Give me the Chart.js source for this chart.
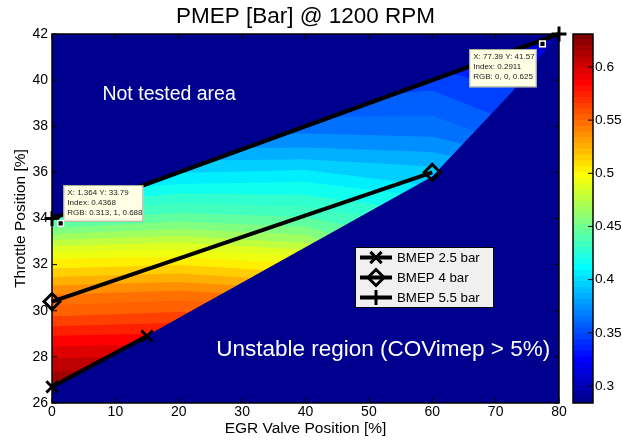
<!DOCTYPE html>
<html>
<head>
<meta charset="utf-8">
<script src="https://cdn.jsdelivr.net/npm/chart.js@4.4.1/dist/chart.umd.min.js"></script>
<style>
  html, body { margin: 0; padding: 0; background: #fff; }
  #wrap { position: relative; width: 622px; height: 443px; }
  #main { position: absolute; left: 0; top: 0; }
  #cbar { position: absolute; left: 560px; top: 0; }
</style>
</head>
<body>
<div id="wrap">
  <canvas id="main" width="622" height="443"></canvas>
  <canvas id="cbar" width="62" height="443"></canvas>
</div>
<script>
/* ── data ────────────────────────────────────────────────── */

// PMEP contours: throttle [%] where PMEP equals each level, read at these EGR positions
const isoEgr = [0, 20, 40, 60, 70, 80];
const isoLevels = [0.29, 0.30, 0.31, 0.32, 0.33, 0.34, 0.35, 0.36, 0.37, 0.38, 0.39, 0.40, 0.41,
  0.42, 0.43, 0.44, 0.45, 0.46, 0.47, 0.48, 0.49, 0.50, 0.51, 0.52, 0.53, 0.54, 0.55, 0.56,
  0.57, 0.58, 0.59, 0.60, 0.61, 0.62];
const isoThrottle = [
  [41.00, 42.00, 43.40, 45.55, 43.70, 41.75],
  [40.50, 41.47, 42.68, 44.55, 43.00, 41.35],
  [40.00, 40.92, 41.96, 43.55, 42.32, 40.98],
  [39.50, 40.36, 41.25, 42.55, 41.61, 40.50],
  [39.00, 39.81, 40.54, 41.55, 40.83, 40.00],
  [38.50, 39.25, 39.82, 40.55, 39.75, 39.50],
  [38.00, 38.69, 39.11, 39.55, 38.45, 39.00],
  [37.50, 38.14, 38.39, 38.45, 37.45, 38.50],
  [37.00, 37.58, 37.69, 37.54, 36.90, 38.00],
  [36.50, 37.03, 37.08, 36.88, 36.30, 37.50],
  [36.00, 36.50, 36.57, 36.25, 35.70, 37.00],
  [35.50, 35.97, 36.10, 35.42, 35.10, 36.50],
  [35.04, 35.50, 35.58, 34.92, 34.50, 36.00],
  [34.63, 35.08, 35.03, 34.27, 33.90, 35.50],
  [34.25, 34.67, 34.52, 33.60, 33.30, 35.00],
  [33.89, 34.25, 34.07, 32.90, 32.60, 34.50],
  [33.59, 33.87, 33.64, 32.20, 31.90, 34.00],
  [33.33, 33.54, 33.29, 31.50, 31.20, 33.50],
  [33.07, 33.25, 32.95, 30.80, 30.50, 33.00],
  [32.80, 32.96, 32.64, 30.10, 29.80, 32.50],
  [32.53, 32.66, 32.36, 29.40, 29.10, 32.00],
  [32.25, 32.34, 32.04, 28.70, 28.40, 31.50],
  [31.83, 31.98, 31.67, 28.00, 27.70, 31.00],
  [31.46, 31.61, 31.29, 27.30, 27.00, 30.50],
  [31.10, 31.25, 30.93, 26.60, 26.30, 30.00],
  [30.70, 30.87, 30.56, 25.90, 25.60, 29.50],
  [30.25, 30.43, 30.17, 25.20, 24.90, 29.00],
  [29.75, 29.95, 29.75, 24.50, 24.20, 28.50],
  [29.33, 29.48, 29.33, 23.80, 23.50, 28.00],
  [28.92, 29.02, 28.89, 23.10, 22.80, 27.50],
  [28.45, 28.57, 28.43, 22.40, 22.10, 27.00],
  [27.92, 28.10, 27.95, 21.70, 21.40, 26.50],
  [27.36, 27.58, 27.42, 21.00, 20.70, 26.00],
  [26.75, 27.03, 26.86, 20.30, 20.00, 25.50]
];
const isoBandWidth = 0.01;

// edge of the unstable region (below it nothing was measured)
const unstableEgr = [0, 15, 60, 72.7, 80];
const unstableThr = [26.7, 28.9, 35.8, 39.5, 42];

// BMEP lines
const bmep25Egr = [0, 15];
const bmep25Thr = [26.7, 28.9];
const bmep4Egr = [0, 60];
const bmep4Thr = [30.4, 36.0];
const bmep55Egr = [0, 80];
const bmep55Thr = [34.0, 42.0];

// data tips
const tipEgr = [1.364, 77.39];
const tipThr = [33.79, 41.57];
const tipIndex = ['0.4368', '0.2911'];
const tipRgb = ['0.313, 1, 0.688', '0, 0, 0.625'];

// axes
const egrTicks = [0, 10, 20, 30, 40, 50, 60, 70, 80];
const throttleTicks = [26, 28, 30, 32, 34, 36, 38, 40, 42];
const colourLimits = [0.284, 0.631];
const colourTicks = [0.3, 0.35, 0.4, 0.45, 0.5, 0.55, 0.6];

/* ── colours ─────────────────────────────────────────────── */
const FONT = '"Liberation Sans", Arial, Helvetica, sans-serif';
Chart.defaults.font.family = FONT;
Chart.defaults.color = '#000';

// MATLAB jet(64), k = 1..64
function jetColor(k) {
  const u = j => (j < 1 || j > 47) ? 0 : j <= 16 ? j / 16 : j <= 31 ? 1 : (48 - j) / 16;
  const c = v => Math.round(v * 255);
  return `rgb(${c(u(k - 24))},${c(u(k - 8))},${c(u(k + 8))})`;
}
function colorFor(v) {
  const k = Math.floor((v - colourLimits[0]) / (colourLimits[1] - colourLimits[0]) * 64) + 1;
  return jetColor(Math.max(1, Math.min(64, k)));
}
const BG = jetColor(1);

const toPoints = (xs, ys) => xs.map((x, i) => ({ x: x, y: ys[i] }));

/* ── heat map as filled contour bands ────────────────────── */
// lowest level first; each band fills down to the axis and the next level paints over it
const bandSets = isoLevels.map((lvl, i) => ({
  type: 'line',
  label: 'PMEP ' + lvl,
  data: toPoints(isoEgr, isoThrottle[i]),
  borderColor: 'rgba(0,0,0,0)',
  borderWidth: 1,
  backgroundColor: colorFor(lvl + isoBandWidth / 2),
  pointRadius: 0,
  fill: 'start',
  order: 200 - i
}));

const bmepLine = (label, xs, ys, style, radius, order) => ({
  type: 'line',
  label: label,
  data: toPoints(xs, ys),
  borderColor: '#000',
  borderWidth: 4,
  pointStyle: style,
  pointRadius: radius,
  pointBorderWidth: 3,
  pointBorderColor: '#000',
  pointBackgroundColor: 'rgba(0,0,0,0)',
  fill: false,
  clip: false,
  order: order,
  isBmep: true
});

const datasets = bandSets.concat([
  {
    type: 'line', label: 'unstable', data: toPoints(unstableEgr, unstableThr),
    borderColor: BG, backgroundColor: BG, borderWidth: 1, pointRadius: 0, fill: 'start', order: 9
  },
  {
    type: 'line', label: 'not tested', data: toPoints(bmep55Egr, bmep55Thr),
    borderColor: BG, backgroundColor: BG, borderWidth: 1, pointRadius: 0, fill: 'end', order: 8
  },
  bmepLine('BMEP 2.5 bar', bmep25Egr, bmep25Thr, 'crossRot', 8, 3),
  bmepLine('BMEP 4 bar', bmep4Egr, bmep4Thr, 'rectRot', 8, 2),
  bmepLine('BMEP 5.5 bar', bmep55Egr, bmep55Thr, 'cross', 7.5, 1)
]);

/* ── overlay: notes, box, inward ticks, legend, data tips ── */
const notes = [
  { text: 'Not tested area', egr: 7.96, thr: 39.14, size: 19.5 },
  { text: 'Unstable region (COVimep > 5%)', egr: 25.9, thr: 28.04, size: 22.5 }
];

function marker(ctx, style, radius, x, y) {
  if (Chart.helpers && Chart.helpers.drawPoint) {
    Chart.helpers.drawPoint(ctx, { pointStyle: style, radius: radius, borderWidth: ctx.lineWidth, rotation: 0 }, x, y);
  }
}

const overlay = {
  id: 'overlay',
  beforeDatasetsDraw(chart) {
    const { ctx, chartArea: a } = chart;
    ctx.save();
    ctx.fillStyle = BG;
    ctx.fillRect(a.left, a.top, a.width, a.height);
    ctx.restore();
  },
  afterDatasetsDraw(chart) {
    const { ctx, chartArea: a, scales: { x, y } } = chart;
    ctx.save();

    // white notes
    ctx.fillStyle = '#fff';
    ctx.textAlign = 'left';
    ctx.textBaseline = 'alphabetic';
    notes.forEach(n => {
      ctx.font = n.size + 'px ' + FONT;
      ctx.fillText(n.text, x.getPixelForValue(n.egr), y.getPixelForValue(n.thr));
    });

    // inward ticks + box
    ctx.strokeStyle = '#000';
    ctx.lineWidth = 1;
    ctx.beginPath();
    x.ticks.forEach(t => {
      const px = x.getPixelForValue(t.value);
      ctx.moveTo(px, a.bottom); ctx.lineTo(px, a.bottom - 5);
      ctx.moveTo(px, a.top); ctx.lineTo(px, a.top + 5);
    });
    y.ticks.forEach(t => {
      const py = y.getPixelForValue(t.value);
      ctx.moveTo(a.left, py); ctx.lineTo(a.left + 5, py);
      ctx.moveTo(a.right, py); ctx.lineTo(a.right - 5, py);
    });
    ctx.stroke();
    ctx.lineWidth = 1.5;
    ctx.strokeRect(a.left, a.top, a.width, a.height);

    // legend
    const lg = { x: 355, y: 247, w: 139, h: 61 };
    ctx.fillStyle = '#f0f0f0';
    ctx.fillRect(lg.x, lg.y, lg.w, lg.h);
    ctx.lineWidth = 1;
    ctx.strokeRect(lg.x + 0.5, lg.y + 0.5, lg.w - 1, lg.h - 1);
    ctx.font = '13.3px ' + FONT;
    ctx.textBaseline = 'middle';
    chart.data.datasets.filter(d => d.isBmep).forEach((d, i) => {
      const ry = lg.y + 10.5 + i * 20;
      ctx.strokeStyle = '#000';
      ctx.lineWidth = 4;
      ctx.beginPath();
      ctx.moveTo(lg.x + 5, ry); ctx.lineTo(lg.x + 37, ry);
      ctx.stroke();
      ctx.lineWidth = 3;
      ctx.fillStyle = 'rgba(0,0,0,0)';
      marker(ctx, d.pointStyle, d.pointRadius, lg.x + 21, ry);
      ctx.fillStyle = '#000';
      ctx.fillText(d.label, lg.x + 42, ry + 0.5);
    });

    // data tips
    const boxes = [
      { dx: 2.7, dy: -38.3, w: 80, h: 36.7 },
      { dx: -73.2, dy: 5.1, w: 67.4, h: 38.3 }
    ];
    ctx.font = '8px ' + FONT;
    tipEgr.forEach((e, i) => {
      const mx = x.getPixelForValue(e);
      const my = y.getPixelForValue(tipThr[i]);
      const b = boxes[i];
      const bx = mx + b.dx, by = my + b.dy;
      ctx.fillStyle = '#ffffe6';
      ctx.fillRect(bx, by, b.w, b.h);
      ctx.strokeStyle = '#a8a898';
      ctx.lineWidth = 1;
      ctx.strokeRect(bx + 0.5, by + 0.5, b.w - 1, b.h - 1);
      ctx.fillStyle = '#222';
      ctx.textBaseline = 'middle';
      ctx.fillText('X: ' + e + ' Y: ' + tipThr[i], bx + 4, by + 8);
      ctx.fillText('Index: ' + tipIndex[i], bx + 4, by + 18);
      ctx.fillText('RGB: ' + tipRgb[i], bx + 4, by + 28);
      ctx.fillStyle = '#000';
      ctx.strokeStyle = '#fff';
      ctx.lineWidth = 1.5;
      marker(ctx, 'rect', 4, mx, my);
    });

    ctx.restore();
  }
};

new Chart(document.getElementById('main'), {
  type: 'line',
  data: { datasets: datasets },
  options: {
    responsive: false,
    animation: false,
    events: [],
    layout: { padding: { left: 0, right: 63, top: 0, bottom: 0 } },
    plugins: {
      legend: { display: false },
      tooltip: { enabled: false },
      title: {
        display: true,
        text: 'PMEP [Bar] @ 1200 RPM',
        fullSize: false,
        font: { size: 22.5, weight: 'normal' },
        padding: { top: 3.3, bottom: 3.7 }
      }
    },
    scales: {
      x: {
        type: 'linear', offset: false, min: 0, max: 80,
        grid: { display: false, drawTicks: false, tickLength: 0 }, border: { display: false },
        afterBuildTicks: s => { s.ticks = egrTicks.map(v => ({ value: v })); },
        afterFit: s => { s.height = 40; },
        ticks: { font: { size: 14 }, padding: 1, maxRotation: 0, autoSkip: false, callback: v => String(v) },
        title: { display: true, text: 'EGR Valve Position [%]', font: { size: 15.5 }, padding: { top: 0, bottom: 5.2 } }
      },
      y: {
        type: 'linear', min: 26, max: 42, beginAtZero: false,
        grid: { display: false, drawTicks: false, tickLength: 0 }, border: { display: false },
        afterBuildTicks: s => { s.ticks = throttleTicks.map(v => ({ value: v })); },
        afterFit: s => { s.width = 52; },
        ticks: { font: { size: 14 }, padding: 4, autoSkip: false, callback: v => String(v) },
        title: { display: true, text: 'Throttle Position [%]', font: { size: 15.5 }, padding: { top: 11.2, bottom: 0 } }
      }
    }
  },
  plugins: [overlay]
});

/* ── colour bar ──────────────────────────────────────────── */
const barSets = [];
for (let k = 1; k <= 64; k++) {
  const span = colourLimits[1] - colourLimits[0];
  barSets.push({
    data: [[colourLimits[0] + (k - 1) / 64 * span, colourLimits[0] + k / 64 * span]],
    backgroundColor: jetColor(k),
    grouped: false, barPercentage: 1, categoryPercentage: 1, inflateAmount: 0.5
  });
}

const cbarFrame = {
  id: 'cbarFrame',
  afterDatasetsDraw(chart) {
    const { ctx, chartArea: a, scales: { y } } = chart;
    ctx.save();
    ctx.strokeStyle = '#000';
    ctx.lineWidth = 1;
    ctx.beginPath();
    y.ticks.forEach(t => {
      const py = y.getPixelForValue(t.value);
      ctx.moveTo(a.right, py); ctx.lineTo(a.right - 5, py);
    });
    ctx.stroke();
    ctx.lineWidth = 1.5;
    ctx.strokeRect(a.left, a.top, a.width, a.height);
    ctx.restore();
  }
};

new Chart(document.getElementById('cbar'), {
  type: 'bar',
  data: { labels: [''], datasets: barSets },
  options: {
    responsive: false,
    animation: false,
    events: [],
    layout: { padding: { left: 13, right: 0, top: 34, bottom: 40 } },
    plugins: { legend: { display: false }, tooltip: { enabled: false } },
    scales: {
      x: { display: false },
      y: {
        position: 'right', min: colourLimits[0], max: colourLimits[1], beginAtZero: false,
        grid: { display: false, drawTicks: false, tickLength: 0 }, border: { display: false },
        afterBuildTicks: s => { s.ticks = colourTicks.map(v => ({ value: v })); },
        afterFit: s => { s.width = 29; },
        ticks: { font: { size: 13.7 }, padding: 2, autoSkip: false, callback: v => String(v) }
      }
    }
  },
  plugins: [cbarFrame]
});
</script>
</body>
</html>
